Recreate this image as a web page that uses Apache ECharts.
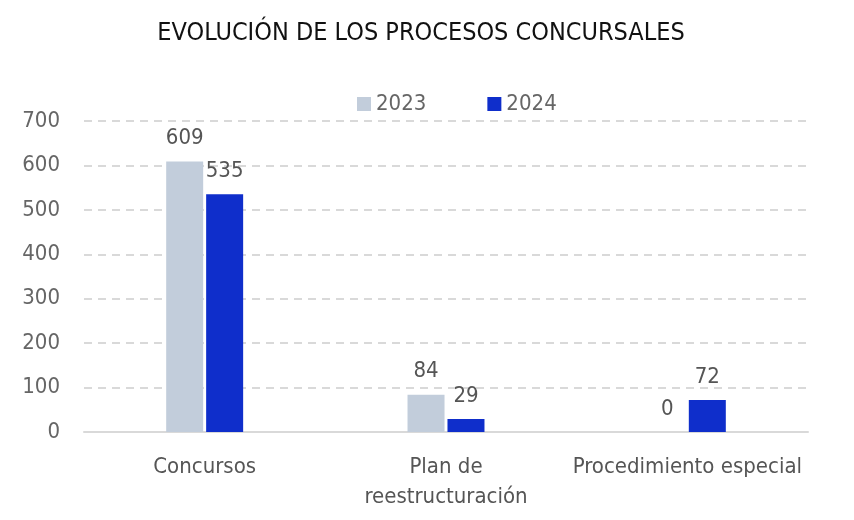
<!DOCTYPE html>
<html>
<head>
<meta charset="utf-8">
<script src="https://cdn.jsdelivr.net/npm/echarts@6/dist/echarts.min.js"></script>
<style>
  html, body { margin: 0; padding: 0; background: #fff; }
  #chart { width: 854px; height: 520px; }
</style>
</head>
<body>
<div id="chart"></div>
<script>
  const categories = ['Concursos', 'Plan de\nreestructuración', 'Procedimiento especial'];
  const values2023 = [609, 84, 0];
  const values2024 = [535, 29, 72];
  const yTicks = [0, 100, 200, 300, 400, 500, 600, 700];

  const fontFamily = '"DejaVu Sans Condensed", "Noto Sans", sans-serif';

  const chart = echarts.init(document.getElementById('chart'));

  const labelStyle = {
    show: true,
    position: 'top',
    distance: 12,
    color: '#555',
    fontSize: 22,
    fontFamily: fontFamily,
  };

  chart.setOption({
    animation: false,
    title: {
      text: 'EVOLUCIÓN DE LOS PROCESOS CONCURSALES',
      left: 416,
      top: 16,
      textAlign: 'center',
      textStyle: {
        color: '#111',
        fontSize: 25,
        fontWeight: 'normal',
        fontFamily: fontFamily,
      },
    },
    legend: {
      data: ['2023', '2024'],
      left: 352,
      top: 88,
      itemWidth: 14,
      itemHeight: 14,
      itemGap: 61,
      icon: 'rect',
      textStyle: {
        color: '#666',
        fontSize: 22,
        fontFamily: fontFamily,
      },
    },
    grid: {
      left: 84,
      right: 46,
      top: 121,
      bottom: 88,
    },
    xAxis: {
      type: 'category',
      data: categories,
      axisTick: { show: false },
      axisLine: { lineStyle: { color: '#d9d9d9', width: 2 } },
      axisLabel: {
        color: '#555',
        fontSize: 22,
        fontFamily: fontFamily,
        margin: 20,
        lineHeight: 30,
        interval: 0,
      },
    },
    yAxis: {
      type: 'value',
      min: yTicks[0],
      max: yTicks[yTicks.length - 1],
      interval: 100,
      axisLine: { show: false },
      axisTick: { show: false },
      axisLabel: {
        color: '#666',
        fontSize: 22,
        fontFamily: fontFamily,
        margin: 24,
      },
      splitLine: {
        lineStyle: { color: '#d9d9d9', type: [8, 6], width: 2 },
      },
    },
    series: [
      {
        name: '2023',
        type: 'bar',
        data: values2023,
        barWidth: 37,
        barGap: '8%',
        itemStyle: { color: '#c2cddb' },
        label: labelStyle,
      },
      {
        name: '2024',
        type: 'bar',
        data: values2024,
        barWidth: 37,
        itemStyle: { color: '#0f2ecb' },
        label: labelStyle,
      },
    ],
  });
</script>
</body>
</html>
